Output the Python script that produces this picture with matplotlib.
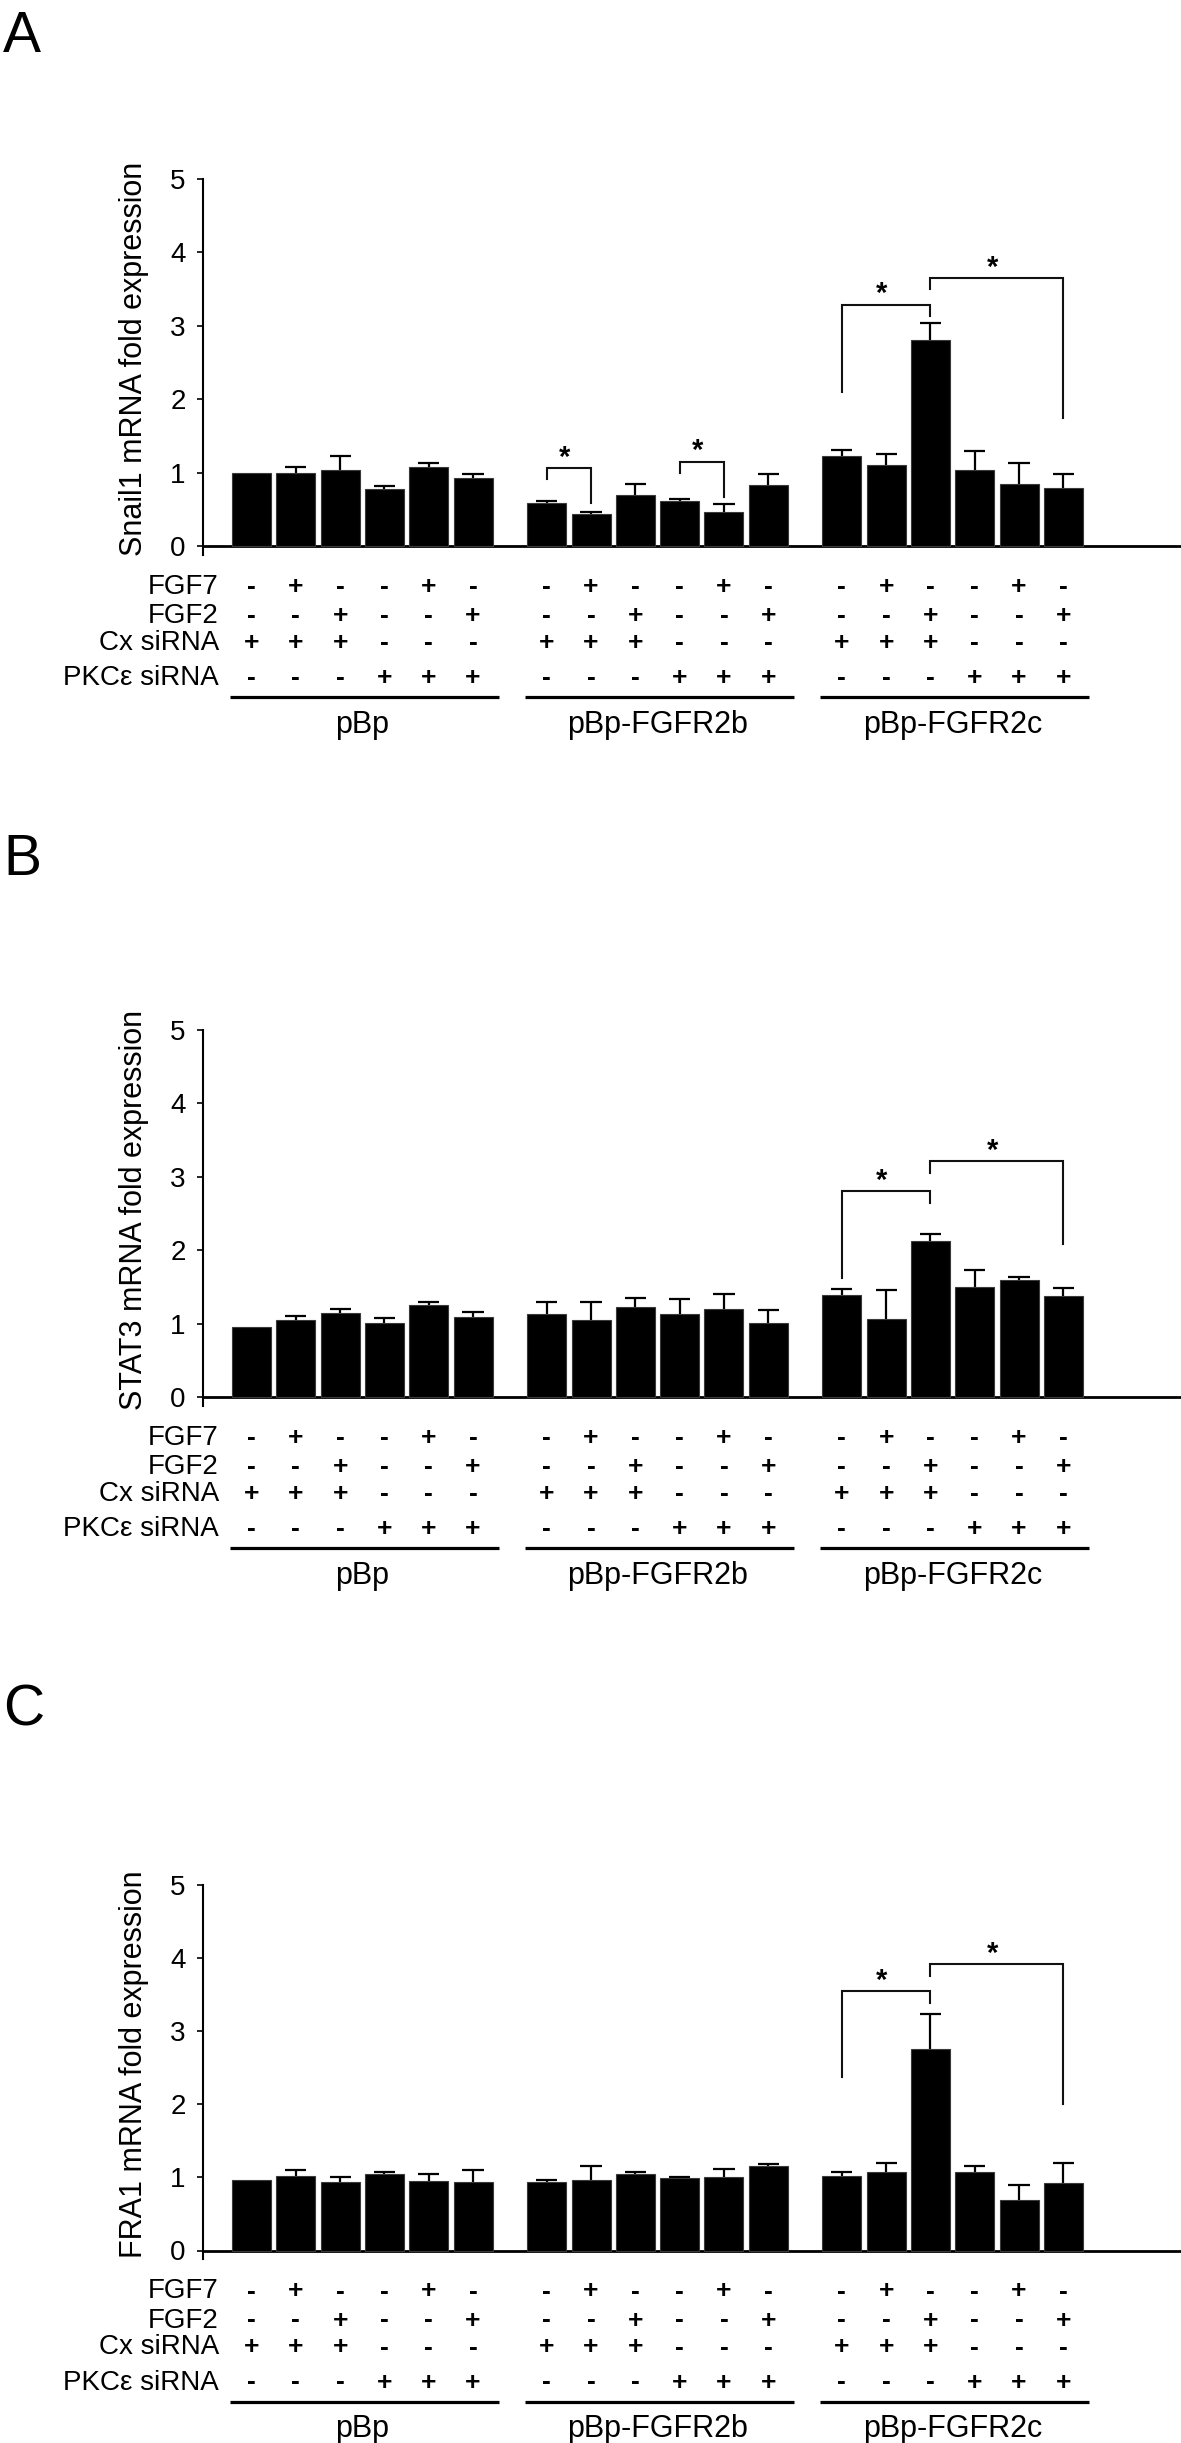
import numpy as np
import matplotlib
matplotlib.use('Agg')
import matplotlib.pyplot as plt
import matplotlib.transforms as mtransforms

plt.rcParams['font.family'] = ['Liberation Sans', 'DejaVu Sans']

# ---- data ----
panel_letters = ['A', 'B', 'C']
ylabels = ['Snail1 mRNA fold expression', 'STAT3 mRNA fold expression', 'FRA1 mRNA fold expression']
groups = ['pBp', 'pBp-FGFR2b', 'pBp-FGFR2c']

row_names = ['FGF7', 'FGF2', 'Cx siRNA', 'PKC\u03b5 siRNA']
fgf7 = ['-', '+', '-', '-', '+', '-']
fgf2 = ['-', '-', '+', '-', '-', '+']
cx_sirna = ['+', '+', '+', '-', '-', '-']
pkce_sirna = ['-', '-', '-', '+', '+', '+']

snail1_mean = [1.00, 0.99, 1.04, 0.78, 1.08, 0.93,
               0.58, 0.43, 0.70, 0.61, 0.46, 0.83,
               1.23, 1.11, 2.81, 1.03, 0.84, 0.79]
snail1_err = [0.00, 0.08, 0.19, 0.04, 0.05, 0.05,
              0.03, 0.04, 0.14, 0.035, 0.11, 0.15,
              0.08, 0.14, 0.23, 0.26, 0.29, 0.19]

stat3_mean = [0.95, 1.05, 1.15, 1.01, 1.26, 1.09,
              1.13, 1.05, 1.23, 1.13, 1.20, 1.01,
              1.39, 1.06, 2.12, 1.50, 1.59, 1.38]
stat3_err = [0.00, 0.06, 0.05, 0.06, 0.04, 0.07,
             0.17, 0.25, 0.12, 0.20, 0.20, 0.17,
             0.08, 0.40, 0.10, 0.23, 0.04, 0.10]

fra1_mean = [0.97, 1.02, 0.94, 1.04, 0.95, 0.94,
             0.94, 0.97, 1.05, 0.99, 1.01, 1.15,
             1.02, 1.07, 2.75, 1.07, 0.69, 0.93]
fra1_err = [0.00, 0.08, 0.06, 0.03, 0.10, 0.16,
            0.03, 0.19, 0.02, 0.02, 0.10, 0.04,
            0.06, 0.13, 0.48, 0.08, 0.20, 0.27]

# significance brackets: (left bar, right bar, bracket top, left leg end, right leg end)
snail1_sig = [(6, 7, 1.06, 0.91, 0.58), (9, 10, 1.15, 0.99, 0.67),
              (12, 14, 3.29, 2.10, 3.13), (14, 17, 3.65, 3.50, 1.74)]
stat3_sig = [(12, 14, 2.80, 1.62, 2.64), (14, 17, 3.21, 3.05, 2.08)]
fra1_sig = [(12, 14, 3.55, 2.37, 3.39), (14, 17, 3.92, 3.76, 2.00)]

means = [snail1_mean, stat3_mean, fra1_mean]
errs = [snail1_err, stat3_err, fra1_err]
sigs = [snail1_sig, stat3_sig, fra1_sig]

# ---- layout (pixels of the 1181x2443 canvas) ----
W, H = 1181, 2443
zero_px = [546, 1397, 2250.5]
unit_px = [73.4, 73.4, 73.1]
letter_px = [10, 833, 1683]
ax_left, ax_right = 203, 1180
row_off = [41, 70, 97, 132]     # px below the zero line
line_off = 151
glabel_off = 187

fig = plt.figure(figsize=(W / 100, H / 100), dpi=100)

xs = np.array([g * 6.66 + i for g in range(3) for i in range(6)])
table = [fgf7, fgf2, cx_sirna, pkce_sirna]

for p in range(3):
    y0, u = zero_px[p], unit_px[p]
    top_px = y0 - 5 * u
    bot_px = y0 + 0.12 * u
    ax = fig.add_axes([ax_left / W, 1 - bot_px / H, (ax_right - ax_left) / W, (bot_px - top_px) / H])
    ax.set_xlim(-1.095, 20.95)
    ax.set_ylim(-0.12, 5)

    m = np.array(means[p])
    e = np.array(errs[p])
    ax.bar(xs, m, width=0.88, color='black', edgecolor='#3a3a3a', linewidth=0.8, zorder=3)
    has = e > 0
    ax.vlines(xs[has], m[has], m[has] + e[has], color='black', lw=1.6, zorder=2)
    ax.hlines(m[has] + e[has], xs[has] - 0.24, xs[has] + 0.24, color='black', lw=1.6, zorder=2)

    for (a, b, top, la, lb) in sigs[p]:
        ax.plot([xs[a], xs[a], xs[b], xs[b]], [la, top, top, lb], color='#111111', lw=1.5,
                solid_joinstyle='miter')
        ax.text((xs[a] + xs[b]) / 2 - 0.1, top + 0.03, '*', ha='center', va='baseline',
                fontsize=21, fontweight='bold')

    for s in ['top', 'right']:
        ax.spines[s].set_visible(False)
    ax.spines['bottom'].set_position(('data', 0))
    ax.spines['bottom'].set_linewidth(2.0)
    ax.spines['left'].set_linewidth(1.5)
    ax.set_xticks([])
    ax.set_yticks([0, 1, 2, 3, 4, 5])
    ax.tick_params(axis='y', labelsize=20, length=4.5, width=1.2, pad=8)

    tr = mtransforms.blended_transform_factory(ax.transAxes, ax.transData)
    ax.text((134 - ax_left) / (ax_right - ax_left), 2.55, ylabels[p], transform=tr,
            rotation=90, ha='center', va='center', fontsize=22)

    # treatment table under the bars
    for r in range(4):
        yr = -row_off[r] / u
        ax.text(-0.734, yr, row_names[r], ha='right', va='center', fontsize=20, clip_on=False)
        for g in range(3):
            for i in range(6):
                ax.text(xs[g * 6 + i], yr, table[r][i], ha='center', va='center',
                        fontsize=19, fontweight='bold', clip_on=False)
    yl = -line_off / u
    yg = -glabel_off / u
    for g in range(3):
        x0 = xs[g * 6] - 0.49
        x1 = xs[g * 6 + 5] + 0.58
        ax.plot([x0, x1], [yl, yl], color='black', lw=2.3, clip_on=False, solid_capstyle='butt')
        ax.text((xs[g * 6] + xs[g * 6 + 5]) / 2, yg, groups[g], ha='center', va='baseline',
                fontsize=22, clip_on=False)

    fig.text(3 / W, 1 - letter_px[p] / H, panel_letters[p], fontsize=41, ha='left', va='top')

fig.savefig('out.png', dpi=100)
